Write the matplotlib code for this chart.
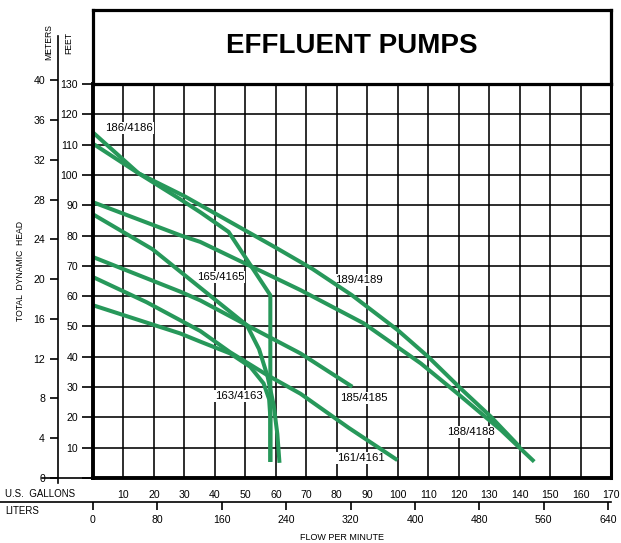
import matplotlib
matplotlib.use('Agg')
import matplotlib.pyplot as plt
from matplotlib.lines import Line2D

W, H = 621, 543

# pump curves: flow in US gallons per minute, total head in feet
flow_186 = [0, 15, 28.6, 35.2, 44.5, 58.2, 58.2]
head_186 = [114, 100.5, 92, 87.7, 81.2, 60.3, 5.3]
flow_189 = [0, 15, 30, 45, 60, 72, 85, 100, 110, 120.7, 130.6, 140]
head_189 = [110.3, 100.5, 93, 84.5, 76, 69, 60.3, 48.8, 40, 29.5, 20.2, 10.3]
flow_188 = [0, 28.6, 35.2, 68.1, 88.9, 107.6, 119.6, 133.9, 144.8]
head_188 = [91, 80.1, 77.9, 62, 51, 37.8, 27.9, 15.8, 5.4]
flow_163 = [0, 19.5, 50.5, 54.5, 57.3, 59.3, 60.5, 61.2]
head_163 = [87, 75.5, 50.4, 42.5, 33.5, 24, 14.5, 5]
flow_185 = [0, 28.6, 35.2, 50.5, 68.1, 85.1]
head_185 = [72.9, 61.5, 58.6, 50.4, 41.1, 30.1]
flow_161 = [0, 17.6, 35.2, 45, 57.1, 68.1, 84, 99.9]
head_161 = [66.3, 58, 48.5, 41.5, 34, 27.8, 16.5, 5.9]
flow_165 = [0, 28.6, 35.2, 45, 51.6, 56, 57.8, 58.2, 58.2]
head_165 = [57, 47.7, 45, 41.1, 36.7, 31.2, 26, 20, 5.3]

# curve labels (left edge flow, head)
label_names = ['186/4186', '165/4165', '189/4189', '185/4185', '188/4188', '163/4163', '161/4161']
label_flow = [3.9, 34, 79.5, 81, 116.2, 40, 80]
label_head = [115.5, 66.3, 65.3, 26.4, 15.2, 27, 6.6]

gallon_ticks = list(range(0, 171, 10))
feet_ticks = list(range(0, 131, 10))
meter_ticks = list(range(0, 41, 4))
liter_ticks = list(range(0, 641, 80))

green = '#27985A'
plt.rcParams['font.family'] = ['Liberation Sans', 'DejaVu Sans']
tick_fs = 7.6


def fx(px):
    return px / W


def fy(py):
    return 1 - py / H


fig = plt.figure(figsize=(W / 100, H / 100), dpi=100)

# main chart
ax = fig.add_axes([fx(93), fy(478), fx(611) - fx(93), fy(84) - fy(478)])
ax.set_xlim(0, 170)
ax.set_ylim(0, 130)
ax.set_xticks(gallon_ticks)
ax.set_xticklabels(['' if v == 0 else str(v) for v in gallon_ticks])
ax.set_yticks(feet_ticks)
ax.set_yticklabels(['' if v == 0 else str(v) for v in feet_ticks])
ax.set_xticks([0, 170], minor=True)
ax.set_axisbelow(True)
ax.grid(True, which='major', color='black', lw=1.15)
ax.tick_params(axis='x', which='major', length=0, pad=9, labelsize=tick_fs)
ax.tick_params(axis='x', which='minor', length=7.9, width=1.2)
ax.tick_params(axis='y', length=7.9, width=1.2, pad=2.9, labelsize=tick_fs)
ax.spines['left'].set_linewidth(2.8)
ax.spines['bottom'].set_linewidth(2.8)
ax.spines['right'].set_linewidth(2.2)
ax.spines['top'].set_linewidth(2.2)

curves = [(flow_186, head_186), (flow_189, head_189), (flow_188, head_188),
          (flow_163, head_163), (flow_185, head_185), (flow_161, head_161),
          (flow_165, head_165)]
for q, h in curves:
    ax.plot(q, h, color=green, lw=2.9, solid_capstyle='butt', solid_joinstyle='round', zorder=2.3)

for name, q, h in zip(label_names, label_flow, label_head):
    ax.text(q, h, name, ha='left', va='center', fontsize=8.2,
            zorder=2.2, bbox=dict(facecolor='white', edgecolor='none', pad=0.8))

# title box
axt = fig.add_axes([fx(93), fy(84), fx(611) - fx(93), fy(10) - fy(84)])
axt.set_xticks([])
axt.set_yticks([])
for s in axt.spines.values():
    s.set_linewidth(2.3)
axt.text(0.499, 0.51, 'EFFLUENT PUMPS', ha='center', va='center', fontsize=20, fontweight='bold')

# meters scale
px_per_ft = (478 - 84) / 130
px_per_m = px_per_ft * 3.28084
axm = fig.add_axes([fx(58), fy(483), 0.001, fy(36) - fy(483)])
axm.set_ylim(-5 / px_per_m, (478 - 36) / px_per_m)
axm.set_yticks(meter_ticks)
axm.set_xticks([])
axm.patch.set_visible(False)
for k in ['top', 'right', 'bottom']:
    axm.spines[k].set_visible(False)
axm.spines['left'].set_linewidth(1.2)
axm.tick_params(axis='y', length=5.8, width=1.2, pad=3.5, labelsize=tick_fs)

# liters scale
axl = fig.add_axes([fx(93), fy(502), fx(611) - fx(93), 0.001])
axl.set_xlim(0, 170 * 3.78541)
axl.set_xticks(liter_ticks)
axl.set_yticks([])
axl.patch.set_visible(False)
for s in axl.spines.values():
    s.set_visible(False)
axl.tick_params(axis='x', length=5.4, width=1.2, pad=3.8, labelsize=tick_fs)

# rules
fig.add_artist(Line2D([0, fx(611)], [fy(502), fy(502)], transform=fig.transFigure, color='black', lw=1.2))
fig.add_artist(Line2D([fx(42), fx(93)], [fy(478), fy(478)], transform=fig.transFigure, color='black', lw=1.2))

# axis captions
fig.text(fx(5), fy(494), 'U.S.  GALLONS', ha='left', va='center', fontsize=7)
fig.text(fx(5), fy(511), 'LITERS', ha='left', va='center', fontsize=7)
fig.text(fx(342), fy(538), 'FLOW PER MINUTE', ha='center', va='center', fontsize=6.5)
fig.text(fx(21), fy(271), 'TOTAL  DYNAMIC  HEAD', ha='center', va='center', rotation=90, fontsize=6.2)
fig.text(fx(49), fy(42.5), 'METERS', ha='center', va='center', rotation=90, fontsize=6.2)
fig.text(fx(68.5), fy(42.5), 'FEET', ha='center', va='center', rotation=90, fontsize=6.2)

fig.savefig('out.png', dpi=100)
